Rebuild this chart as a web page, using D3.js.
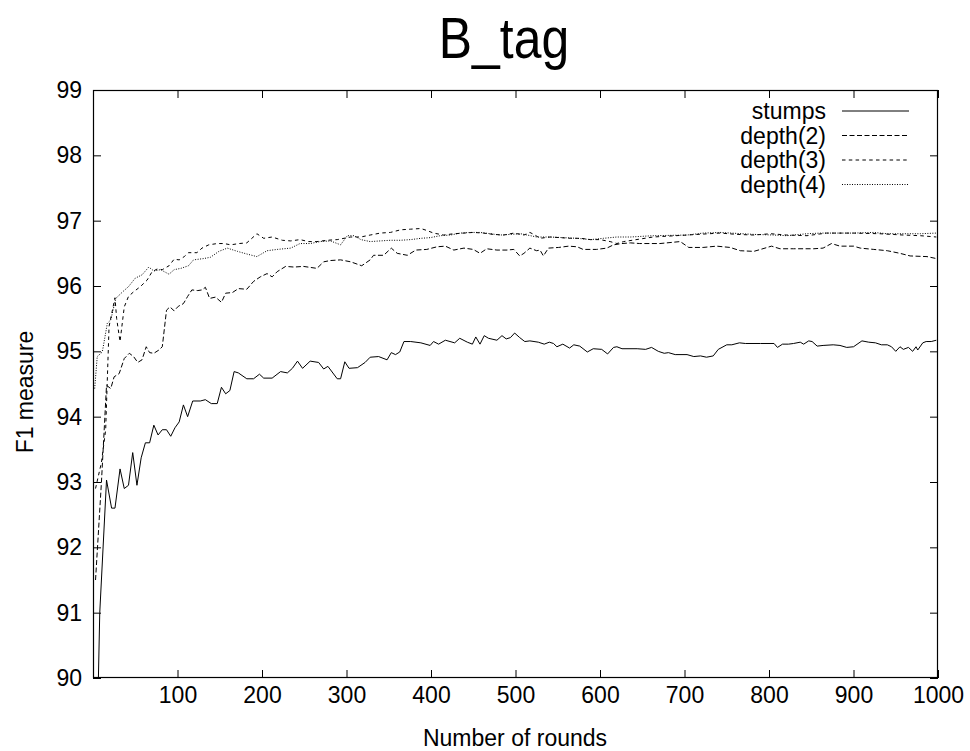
<!DOCTYPE html>
<html>
<head>
<meta charset="utf-8">
<script src="https://cdn.jsdelivr.net/npm/d3@7"></script>
<style>
  body { margin: 0; background: #fff; }
  text { font-family: "Liberation Sans", Arial, sans-serif; fill: #000; }
</style>
</head>
<body>
<script>
var width = 970,
    height = 751;
var margin = {top: 90, right: 32, bottom: 73, left: 93};

var xTicks = [100, 200, 300, 400, 500, 600, 700, 800, 900, 1000];
var yTicks = [90, 91, 92, 93, 94, 95, 96, 97, 98, 99];

var seriesNames = ["stumps", "depth(2)", "depth(3)", "depth(4)"];
var dashes = [null, "5,2.5", "3.5,3.3", "1,1.5"];

var stumpsRounds = [4, 8, 16, 22, 26, 32, 37, 42, 47, 52, 57, 62, 67, 72, 77, 82, 87, 92, 97, 102, 107, 112, 118, 127, 133, 140, 147, 152, 157, 162, 167, 172, 182, 190, 197, 202, 212, 222, 230, 236, 242, 248, 257, 267, 273, 278, 289, 293, 298, 303, 313, 322, 328, 338, 348, 353, 358, 363, 368, 376, 388, 399, 403, 409, 417, 428, 434, 443, 449, 453, 458, 463, 468, 478, 484, 489, 494, 499, 505, 511, 517, 527, 534, 540, 545, 549, 556, 564, 569, 576, 585, 592, 602, 609, 616, 620, 626, 644, 654, 661, 669, 676, 681, 689, 703, 711, 719, 726, 734, 740, 750, 756, 765, 772, 790, 806, 810, 816, 823, 829, 837, 841, 847, 851, 857, 864, 876, 884, 892, 900, 910, 918, 926, 933, 940, 945, 950, 955, 959, 965, 970, 974, 976, 982, 986, 992, 998];
var stumpsF1 = [88.5, 91.0, 93.03, 92.6, 92.6, 93.2, 92.9, 92.95, 93.45, 92.95, 93.37, 93.6, 93.6, 93.87, 93.72, 93.8, 93.8, 93.7, 93.83, 93.92, 94.18, 94.0, 94.24, 94.24, 94.26, 94.2, 94.2, 94.45, 94.35, 94.4, 94.69, 94.67, 94.58, 94.58, 94.65, 94.59, 94.59, 94.69, 94.67, 94.74, 94.85, 94.74, 94.85, 94.83, 94.73, 94.77, 94.58, 94.58, 94.84, 94.74, 94.75, 94.83, 94.91, 94.92, 94.87, 94.98, 94.95, 94.99, 95.15, 95.15, 95.13, 95.09, 95.15, 95.11, 95.17, 95.13, 95.2, 95.14, 95.11, 95.22, 95.11, 95.24, 95.2, 95.17, 95.24, 95.19, 95.21, 95.28, 95.21, 95.15, 95.16, 95.14, 95.11, 95.14, 95.12, 95.07, 95.11, 95.05, 95.1, 95.08, 94.99, 95.04, 95.03, 94.96, 95.06, 95.07, 95.04, 95.04, 95.03, 95.06, 95.0, 94.97, 94.98, 94.95, 94.95, 94.92, 94.93, 94.91, 94.93, 95.03, 95.1, 95.1, 95.13, 95.12, 95.12, 95.12, 95.06, 95.11, 95.11, 95.12, 95.14, 95.11, 95.16, 95.15, 95.08, 95.09, 95.1, 95.09, 95.06, 95.07, 95.16, 95.14, 95.13, 95.1, 95.1, 95.07, 95.0, 95.07, 95.03, 95.06, 95.0, 95.07, 95.02, 95.13, 95.15, 95.15, 95.17];

var depth2Rounds = [3, 10, 16, 21, 25, 31, 37, 43, 48, 53, 58, 63, 67, 72, 78, 82, 87, 91, 96, 101, 107, 112, 117, 124, 129, 133, 138, 145, 152, 157, 165, 172, 182, 190, 198, 206, 212, 218, 228, 238, 249, 265, 273, 281, 293, 305, 318, 328, 332, 344, 353, 360, 372, 382, 395, 407, 417, 427, 439, 450, 458, 466, 478, 490, 498, 505, 510, 517, 525, 529, 533, 539, 551, 563, 573, 580, 596, 608, 616, 626, 636, 647, 671, 695, 705, 722, 738, 754, 766, 782, 790, 803, 813, 829, 853, 864, 874, 884, 900, 908, 924, 940, 955, 967, 987, 998];
var depth2F1 = [91.5, 93.0, 94.48, 94.43, 94.61, 94.66, 94.89, 94.97, 94.92, 94.83, 94.87, 95.07, 94.98, 94.97, 95.02, 95.07, 95.63, 95.68, 95.62, 95.69, 95.73, 95.84, 95.94, 95.93, 95.94, 95.98, 95.81, 95.83, 95.75, 95.89, 95.9, 95.96, 95.95, 96.07, 96.14, 96.19, 96.14, 96.22, 96.3, 96.29, 96.3, 96.27, 96.37, 96.39, 96.4, 96.37, 96.31, 96.4, 96.47, 96.47, 96.58, 96.5, 96.47, 96.55, 96.56, 96.6, 96.61, 96.55, 96.58, 96.56, 96.5, 96.57, 96.55, 96.55, 96.56, 96.46, 96.5, 96.58, 96.54, 96.55, 96.46, 96.58, 96.59, 96.61, 96.6, 96.56, 96.56, 96.58, 96.63, 96.65, 96.66, 96.65, 96.65, 96.68, 96.59, 96.59, 96.61, 96.59, 96.54, 96.53, 96.56, 96.61, 96.57, 96.57, 96.57, 96.58, 96.65, 96.61, 96.61, 96.58, 96.56, 96.54, 96.5, 96.46, 96.45, 96.42];

var depth3Rounds = [3, 10, 15, 19, 26, 28, 32, 37, 42, 48, 56, 64, 70, 76, 82, 90, 96, 102, 108, 113, 123, 129, 137, 147, 155, 163, 173, 182, 194, 202, 212, 224, 234, 245, 255, 265, 277, 289, 305, 317, 328, 340, 352, 364, 376, 388, 395, 403, 415, 427, 439, 450, 462, 474, 486, 498, 510, 517, 523, 529, 541, 553, 565, 577, 589, 600, 612, 620, 628, 663, 703, 742, 762, 782, 802, 821, 845, 868, 900, 931, 959, 979, 998];
var depth3F1 = [92.9, 93.3, 93.8, 95.38, 95.82, 95.5, 95.15, 95.68, 95.84, 95.91, 95.99, 96.09, 96.22, 96.26, 96.25, 96.31, 96.41, 96.4, 96.45, 96.51, 96.51, 96.58, 96.63, 96.65, 96.65, 96.63, 96.65, 96.66, 96.8, 96.73, 96.75, 96.7, 96.69, 96.71, 96.68, 96.68, 96.7, 96.71, 96.75, 96.75, 96.78, 96.81, 96.82, 96.86, 96.87, 96.88, 96.85, 96.81, 96.78, 96.8, 96.81, 96.82, 96.81, 96.79, 96.78, 96.81, 96.78, 96.82, 96.78, 96.73, 96.75, 96.74, 96.73, 96.73, 96.71, 96.71, 96.68, 96.65, 96.68, 96.75, 96.78, 96.81, 96.79, 96.78, 96.8, 96.78, 96.77, 96.81, 96.81, 96.8, 96.78, 96.77, 96.75];

var depth4Rounds = [2, 5, 11, 17, 21, 27, 35, 42, 50, 58, 66, 72, 80, 90, 96, 104, 113, 119, 131, 139, 149, 159, 171, 182, 194, 206, 218, 234, 245, 257, 269, 281, 293, 301, 309, 317, 328, 340, 352, 364, 376, 388, 399, 411, 423, 435, 447, 458, 470, 482, 494, 506, 514, 525, 541, 557, 573, 589, 604, 620, 636, 663, 703, 722, 742, 782, 806, 821, 845, 861, 900, 924, 940, 959, 979, 998];
var depth4F1 = [94.43, 94.92, 94.99, 95.43, 95.48, 95.81, 95.91, 95.99, 96.12, 96.17, 96.29, 96.23, 96.25, 96.18, 96.25, 96.27, 96.31, 96.4, 96.42, 96.44, 96.53, 96.58, 96.53, 96.49, 96.45, 96.54, 96.56, 96.58, 96.65, 96.65, 96.68, 96.69, 96.63, 96.77, 96.77, 96.71, 96.68, 96.69, 96.7, 96.7, 96.71, 96.73, 96.74, 96.77, 96.78, 96.81, 96.82, 96.82, 96.8, 96.78, 96.79, 96.8, 96.78, 96.75, 96.75, 96.74, 96.73, 96.71, 96.73, 96.75, 96.75, 96.77, 96.78, 96.81, 96.82, 96.79, 96.78, 96.77, 96.8, 96.81, 96.81, 96.82, 96.8, 96.8, 96.8, 96.81];

var allRounds = [stumpsRounds, depth2Rounds, depth3Rounds, depth4Rounds];
var allF1 = [stumpsF1, depth2F1, depth3F1, depth4F1];

var series = seriesNames.map(function(name, i) {
  return {
    name: name,
    dash: dashes[i],
    values: allRounds[i].map(function(r, j) { return {x: r, y: allF1[i][j]}; })
  };
});

var x = d3.scaleLinear()
    .domain([0, 1000])
    .range([margin.left, width - margin.right]);

var y = d3.scaleLinear()
    .domain([90, 99])
    .range([height - margin.bottom, margin.top]);

var svg = d3.select("body").append("svg")
    .attr("width", width)
    .attr("height", height);

svg.append("defs").append("clipPath")
    .attr("id", "plot-clip")
  .append("rect")
    .attr("x", margin.left)
    .attr("y", margin.top)
    .attr("width", width - margin.right - margin.left)
    .attr("height", height - margin.bottom - margin.top);

// ticks, inward on all four sides (gnuplot mirror)
var tickLen = 8;
var fontSize = "23px";
var axisBottom = d3.axisBottom(x).tickValues(xTicks).tickFormat(d3.format("d"))
    .tickSizeInner(-tickLen).tickSizeOuter(0).tickPadding(9);
var axisTop = d3.axisTop(x).tickValues(xTicks).tickSizeInner(-tickLen).tickSizeOuter(0).tickFormat("");
var axisLeft = d3.axisLeft(y).tickValues(yTicks).tickSizeInner(-tickLen).tickSizeOuter(0).tickPadding(11);
var axisRight = d3.axisRight(y).tickValues(yTicks).tickSizeInner(-tickLen).tickSizeOuter(0).tickFormat("");

function styleAxis(g) {
  g.select(".domain").remove();
  g.selectAll(".tick line").attr("stroke", "#000").attr("stroke-width", 1);
  g.selectAll(".tick text").style("font-size", fontSize).attr("fill", "#000");
}

svg.append("g").attr("transform", "translate(0," + (height - margin.bottom) + ")").call(axisBottom).call(styleAxis);
svg.append("g").attr("transform", "translate(0," + margin.top + ")").call(axisTop).call(styleAxis);
svg.append("g").attr("transform", "translate(" + margin.left + ",0)").call(axisLeft).call(styleAxis);
svg.append("g").attr("transform", "translate(" + (width - margin.right) + ",0)").call(axisRight).call(styleAxis);

var line = d3.line()
    .x(function(d) { return x(d.x); })
    .y(function(d) { return y(d.y); });

svg.append("g")
    .attr("clip-path", "url(#plot-clip)")
  .selectAll("path")
  .data(series)
  .enter().append("path")
    .attr("fill", "none")
    .attr("stroke", "#000")
    .attr("stroke-width", 1)
    .attr("stroke-dasharray", function(d) { return d.dash; })
    .attr("d", function(d) { return line(d.values); });

// frame
svg.append("rect")
    .attr("x", margin.left + 0.5)
    .attr("y", margin.top + 0.5)
    .attr("width", width - margin.right - margin.left - 1)
    .attr("height", height - margin.bottom - margin.top - 1)
    .attr("fill", "none")
    .attr("stroke", "#000")
    .attr("stroke-width", 1.2);

// legend
var legend = svg.append("g")
  .selectAll("g")
  .data(series)
  .enter().append("g")
    .attr("transform", function(d, i) { return "translate(0," + (111 + i * 24.5) + ")"; });

legend.append("text")
    .attr("x", 826)
    .attr("dy", "0.35em")
    .attr("text-anchor", "end")
    .style("font-size", fontSize)
    .text(function(d) { return d.name; });

legend.append("line")
    .attr("x1", 842)
    .attr("x2", 909)
    .attr("stroke", "#000")
    .attr("stroke-width", 1)
    .attr("stroke-dasharray", function(d) { return d.dash; });

svg.append("text")
    .attr("transform", "translate(504,58) scale(0.86,1)")
    .attr("text-anchor", "middle")
    .style("font-size", "58px")
    .text("B_tag");

svg.append("text")
    .attr("x", 515)
    .attr("y", 746)
    .attr("text-anchor", "middle")
    .style("font-size", fontSize)
    .text("Number of rounds");

svg.append("text")
    .attr("transform", "translate(33,392) rotate(-90)")
    .attr("text-anchor", "middle")
    .style("font-size", fontSize)
    .text("F1 measure");
</script>
</body>
</html>
